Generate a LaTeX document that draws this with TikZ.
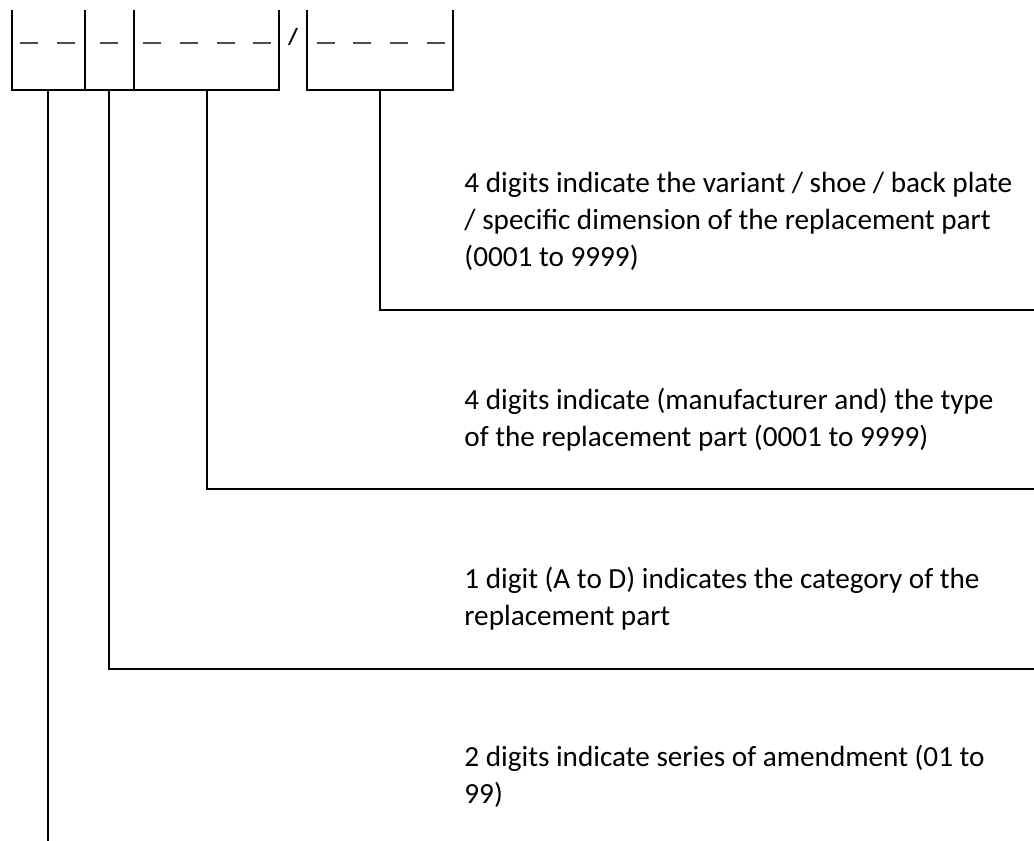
\documentclass[tikz,border=0pt]{standalone}
\usepackage{fontspec}
\setmainfont{Carlito}

\begin{document}
\begin{tikzpicture}[%
x=0.5pt, y=-0.5pt,
rule/.style={line width=1pt},
blank/.style={line width=0.7pt, color=black!70},
note/.style={anchor=base west, align=left, inner sep=0pt, font=\fontsize{14.6}{18.5}\selectfont},
]
\useasboundingbox (0,0) rectangle (1034,841);
%% number boxes;
\draw [rule] (12,10) -- (12,90) -- (279,90) -- (279,10);
\draw [rule] (85,10) -- (85,90);
\draw [rule] (134,10) -- (134,90);
\draw [rule] (307,10) -- (307,90) -- (453,90) -- (453,10);
%% blanks;
\foreach \xa in {20,57,100,143,180,217,253,317,353,390,427}
  \draw [blank] (\xa,43) -- ++(18,0);
%% slash;
\node [inner sep=0pt, font=\fontsize{11.5}{11.5}\selectfont\bfseries] (slash) at (293,37) {/};
%% box ends;
\coordinate (series top) at (48,90);
\coordinate (category top) at (109,90);
\coordinate (type top) at (207,90);
\coordinate (variant top) at (380,90);
\coordinate (series end) at (48,841);
\coordinate (category end) at (1034,669);
\coordinate (type end) at (1034,489);
\coordinate (variant end) at (1034,310);
%% labels (base = last line);
\node [note] (variant) at (464,266) {4 digits indicate the variant / shoe / back plate\\/ specific dimension of the replacement part\\(0001 to 9999)};
\node [note] (type) at (464,446) {4 digits indicate (manufacturer and) the type\\of the replacement part (0001 to 9999)};
\node [note] (category) at (464,625) {1 digit (A to D) indicates the category of the\\replacement part};
\node [note] (series) at (464,803) {2 digits indicate series of amendment (01 to\\99)};
%% connectors;
\draw [rule] (variant top) |- (variant end);
\draw [rule] (type top) |- (type end);
\draw [rule] (category top) |- (category end);
\draw [rule] (series top) -- (series end);
\end{tikzpicture}
\end{document}
